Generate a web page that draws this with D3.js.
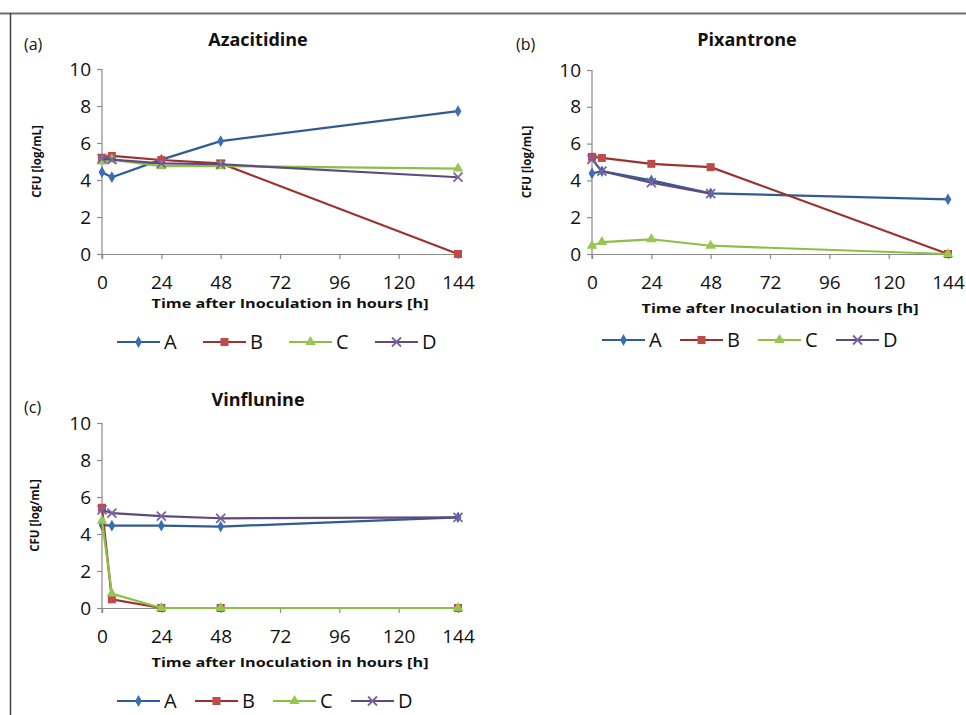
<!DOCTYPE html>
<html>
<head>
<meta charset="utf-8">
<script src="https://cdn.jsdelivr.net/npm/d3@7"></script>
<style>
  html, body { margin: 0; padding: 0; background: #fff; }
  svg { display: block; font-family: "Open Sans", "Noto Sans", sans-serif; }
</style>
</head>
<body>
<svg id="fig" width="966" height="715"></svg>
<script>
// Sampling times (hours after inoculation)
const hours = [0, 4, 24, 48, 144];
const xTicks = [0, 24, 48, 72, 96, 120, 144];
const yTicks = [0, 2, 4, 6, 8, 10];
const seriesNames = ["A", "B", "C", "D"];

// CFU [log/mL] per drug and series
const azaA = [4.42, 4.15, 5.1, 6.1, 7.72];
const azaB = [5.2, 5.3, 5.08, 4.9, 0];
const azaC = [5.0, 5.1, 4.75, 4.75, 4.62];
const azaD = [5.15, 5.1, 4.9, 4.85, 4.15];

const pixA = [4.38, 4.5, 4.0, 3.3, 2.97];
const pixB = [5.28, 5.22, 4.9, 4.72, 0];
const pixC = [0.45, 0.65, 0.8, 0.45, 0];
const pixD = [5.15, 4.5, 3.88, 3.28, null];

const vinA = [4.48, 4.45, 4.45, 4.4, 4.9];
const vinB = [5.42, 0.47, 0, 0, 0];
const vinC = [4.72, 0.78, 0, 0, 0];
const vinD = [5.3, 5.13, 4.97, 4.85, 4.9];

const lineColors = ["#2F5C93", "#9C322F", "#8DBF47", "#5E4A7E"];
const markColors = ["#3B6DB0", "#BE4B48", "#97C653", "#7A62A0"];
const markShapes = ["diamond", "square", "triangle", "cross"];

const svg = d3.select("#fig");

// Frame lines along the top and left edge
svg.append("line").attr("x1", 0).attr("x2", 966).attr("y1", 13.5).attr("y2", 13.5)
  .attr("stroke", "#6e6e6e").attr("stroke-width", 2);
svg.append("line").attr("x1", 10.5).attr("x2", 10.5).attr("y1", 13).attr("y2", 715)
  .attr("stroke", "#444").attr("stroke-width", 1.5);

function drawMarker(g, shape, x, y, color) {
  if (shape === "diamond") {
    g.append("path").attr("d", d3.symbol(d3.symbolDiamond, 40)())
      .attr("transform", `translate(${x},${y})`).attr("fill", color);
  } else if (shape === "square") {
    g.append("rect").attr("x", x - 4).attr("y", y - 4).attr("width", 8).attr("height", 8)
      .attr("fill", color);
  } else if (shape === "triangle") {
    g.append("path").attr("d", d3.symbol(d3.symbolTriangle, 48)())
      .attr("transform", `translate(${x},${y})`).attr("fill", color);
  } else {
    g.append("path").attr("d", `M${x - 4.5},${y - 4.5}L${x + 4.5},${y + 4.5}M${x - 4.5},${y + 4.5}L${x + 4.5},${y - 4.5}`)
      .attr("stroke", color).attr("stroke-width", 1.8).attr("fill", "none");
  }
}

function panel(cfg) {
  const { series, title, tag, left, right, top, bottom } = cfg;
  const x = d3.scaleLinear().domain([0, 144]).range([left, right]);
  const y = d3.scaleLinear().domain([0, 10]).range([bottom, top]);
  const g = svg.append("g");

  // y axis
  const ya = g.append("g").attr("transform", `translate(${left},0)`)
    .call(d3.axisLeft(y).tickValues(yTicks).tickSize(5).tickPadding(6));
  // x axis
  const xa = g.append("g").attr("transform", `translate(0,${bottom})`)
    .call(d3.axisBottom(x).tickValues(xTicks).tickSize(5).tickPadding(17));
  [ya, xa].forEach(a => {
    a.select(".domain").attr("stroke", "#8a8a8a").attr("stroke-width", 1.2);
    a.selectAll(".tick line").attr("stroke", "#8a8a8a").attr("stroke-width", 1.2);
    a.selectAll(".tick text").attr("fill", "#111").attr("font-size", 19)
      .attr("font-family", "'Open Sans', sans-serif");
  });
  ya.select(".domain").attr("d", `M0,${top}V${bottom + 5}`);

  // series lines and markers
  series.forEach((vals, i) => {
    const pts = hours.map((h, j) => ({ h, v: vals[j] })).filter(p => p.v !== null);
    const line = d3.line().x(p => x(p.h)).y(p => y(p.v));
    g.append("path").attr("d", line(pts)).attr("fill", "none")
      .attr("stroke", lineColors[i]).attr("stroke-width", 2.2).attr("stroke-linejoin", "round");
    pts.forEach(p => drawMarker(g, markShapes[i], x(p.h), y(p.v), markColors[i]));
  });

  // titles
  g.append("text").attr("x", cfg.titleX).attr("y", cfg.titleY).attr("text-anchor", "middle")
    .attr("font-size", 18).attr("font-weight", "bold").attr("fill", "#111").text(title);
  g.append("text").attr("x", cfg.tagX).attr("y", cfg.tagY)
    .attr("font-size", 16).attr("fill", "#111").text(tag);
  g.append("text").attr("x", (left + right) / 2 + 10).attr("y", cfg.xTitleY).attr("text-anchor", "middle")
    .attr("font-size", 12.5).attr("font-weight", "bold").attr("fill", "#111")
    .attr("textLength", 277).attr("lengthAdjust", "spacingAndGlyphs")
    .text("Time after Inoculation in hours [h]");
  g.append("text").attr("transform", `translate(${cfg.yTitleX},${(top + bottom) / 2}) rotate(-90)`)
    .attr("text-anchor", "middle").attr("font-size", 11.5).attr("font-weight", "bold").attr("fill", "#111")
    .text("CFU [log/mL]");

  // legend
  seriesNames.forEach((name, i) => {
    const lx = cfg.legendX + i * cfg.legendStep;
    const ly = cfg.legendY;
    g.append("line").attr("x1", lx).attr("x2", lx + 43).attr("y1", ly).attr("y2", ly)
      .attr("stroke", lineColors[i]).attr("stroke-width", 2.2);
    drawMarker(g, markShapes[i], lx + 21.5, ly, markColors[i]);
    g.append("text").attr("x", lx + 47).attr("y", ly + 7).attr("font-size", 20)
      .attr("fill", "#111").text(name);
  });
}

panel({
  series: [azaA, azaB, azaC, azaD], title: "Azacitidine", tag: "(a)",
  left: 102, right: 458, top: 69, bottom: 254,
  titleX: 258, titleY: 46, tagX: 24, tagY: 50, xTitleY: 308, yTitleX: 41,
  legendX: 117, legendStep: 86, legendY: 342
});
panel({
  series: [pixA, pixB, pixC, pixD], title: "Pixantrone", tag: "(b)",
  left: 592, right: 948, top: 70, bottom: 254,
  titleX: 747, titleY: 46, tagX: 516, tagY: 50, xTitleY: 313, yTitleX: 531,
  legendX: 602, legendStep: 78, legendY: 340
});
panel({
  series: [vinA, vinB, vinC, vinD], title: "Vinflunine", tag: "(c)",
  left: 102, right: 458, top: 423, bottom: 608,
  titleX: 258, titleY: 406, tagX: 24, tagY: 413, xTitleY: 667, yTitleX: 39,
  legendX: 117, legendStep: 78, legendY: 701
});
</script>
</body>
</html>
